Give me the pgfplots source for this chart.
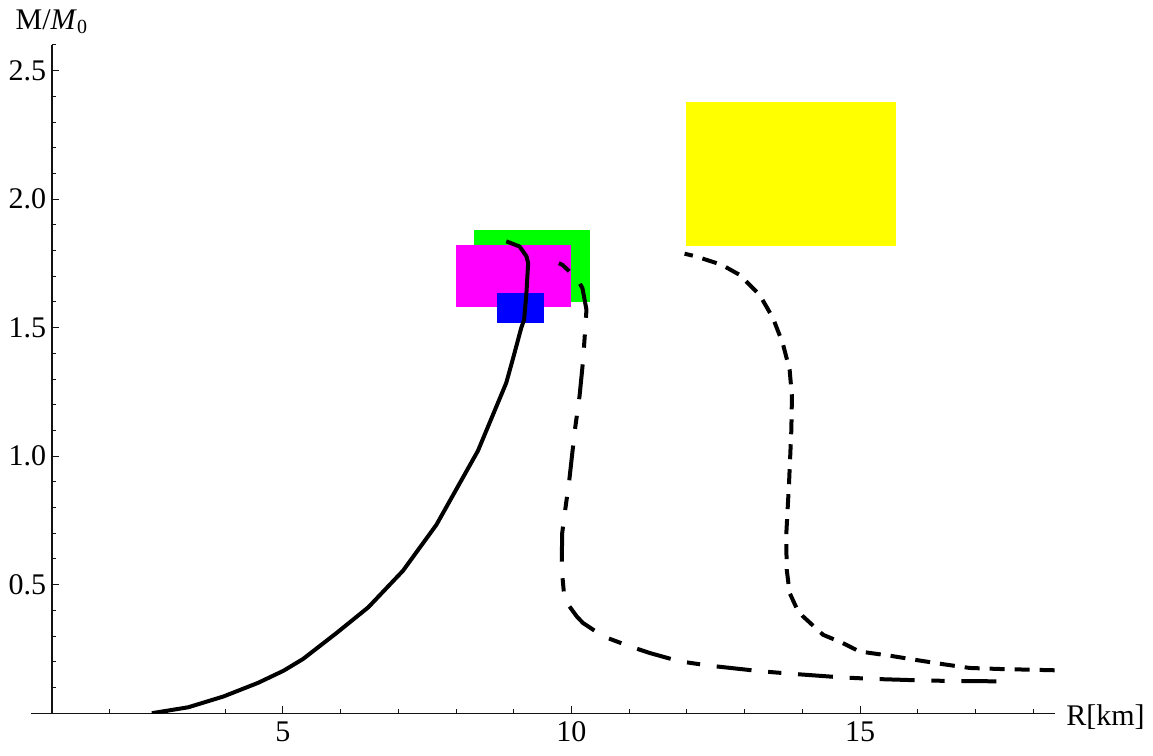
\documentclass[border=0pt]{standalone}
\usepackage{fontspec}
\setmainfont{Liberation Serif}
\usepackage{pgfplots}
\pgfplotsset{compat=1.18}
\definecolor{boxgreen}{RGB}{0,255,0}
\definecolor{boxmagenta}{RGB}{255,0,255}
\definecolor{boxblue}{RGB}{0,0,255}
\definecolor{boxyellow}{RGB}{255,255,0}

\begin{document}
\begin{tikzpicture}
\begin{axis}[
    scale only axis,
    width=401.2pt, height=267.4pt,
    xmin=1, xmax=18.37, ymin=0, ymax=2.6,
    axis lines=left,
    axis line style={-, line width=0.5pt, gray!15!black},
    x axis line style={shorten <=-8.4pt},
    tick align=inside,
    tick style={line width=0.4pt, gray!15!black},
    major tick length=2.8pt, minor tick length=1.6pt,
    xtick={5,10,15},
    minor xtick={2,3,4,6,7,8,9,11,12,13,14,16,17,18},
    ytick={0.5,1,1.5,2,2.5},
    minor ytick={0.1,0.2,...,2.6},
    /pgf/number format/assume math mode=true,
    tick label style={font=\fontsize{12}{14}\selectfont},
    yticklabel style={xshift=1.2pt, /pgf/number format/.cd, fixed, fixed zerofill, precision=1},
    every axis x label/.style={at={(rel axis cs:1,0)}, anchor=west, xshift=1.2pt, yshift=-1.5pt},
    every axis y label/.style={at={(rel axis cs:0,1)}, anchor=south, yshift=0.8pt},
    label style={font=\fontsize{12}{14}\selectfont},
    xlabel={R[km]},
    ylabel={M/\textit{M}\textsubscript{0}},
]
% observational boxes
\addplot [fill=boxgreen, draw=none] coordinates {(8.31,1.598) (10.32,1.598) (10.32,1.881) (8.31,1.881)};
\addplot [fill=boxmagenta, draw=none] coordinates {(8.00,1.579) (10.00,1.579) (10.00,1.820) (8.00,1.820)};
\addplot [fill=boxblue, draw=none] coordinates {(8.71,1.517) (9.52,1.517) (9.52,1.636) (8.71,1.636)};
\addplot [fill=boxyellow, draw=none] coordinates {(11.99,1.816) (15.615,1.816) (15.615,2.379) (11.99,2.379)};

% solid curve
\addplot [black, line width=1.6pt, line join=round] coordinates {
    (2.73,0.0) (3.36,0.023) (3.97,0.065) (4.57,0.118) (5.01,0.165)
    (5.35,0.211) (5.93,0.312) (6.48,0.412) (7.08,0.554) (7.66,0.733)
    (8.38,1.021) (8.87,1.285) (8.99,1.382) (9.13,1.499) (9.18,1.531)
    (9.22,1.635) (9.25,1.752) (9.22,1.778) (9.10,1.816) (8.87,1.836)
};

% long-short dashed curve
\addplot [black, line width=1.6pt, line join=round,
    dash pattern=on 14pt off 6.7pt on 5.3pt off 6.7pt] coordinates {
    (17.36,0.124) (16.43,0.126) (15.86,0.129) (15.28,0.133) (14.70,0.139)
    (13.84,0.153) (13.29,0.163) (12.39,0.185) (11.87,0.202) (11.36,0.234)
    (11.01,0.260) (10.55,0.299) (10.20,0.351) (10.09,0.377) (9.88,0.442)
    (9.83,0.565) (9.84,0.701) (9.88,0.772) (9.96,0.902) (10.06,1.103)
    (10.14,1.233) (10.20,1.369) (10.24,1.499) (10.26,1.570) (10.19,1.654)
    (10.09,1.693) (9.84,1.745) (9.64,1.765)
};

% dashed curve
\addplot [black, line width=1.6pt, line join=round,
    dash pattern=on 6pt off 4pt] coordinates {
    (18.37,0.167) (17.42,0.172) (16.90,0.176) (16.49,0.189) (16.03,0.205)
    (15.51,0.224) (14.99,0.240) (14.70,0.273) (14.36,0.305) (14.01,0.377)
    (13.90,0.409) (13.78,0.468) (13.73,0.558) (13.72,0.688) (13.77,0.896)
    (13.81,1.103) (13.82,1.233) (13.78,1.336) (13.66,1.440) (13.49,1.538)
    (13.26,1.628) (12.91,1.706) (12.60,1.745) (12.16,1.777) (11.96,1.788)
};
\end{axis}
\path (current axis.south west) ++(-20.8pt,-17pt)
      (current axis.south west) ++(440.4pt,285.4pt);
\end{tikzpicture}
\end{document}
